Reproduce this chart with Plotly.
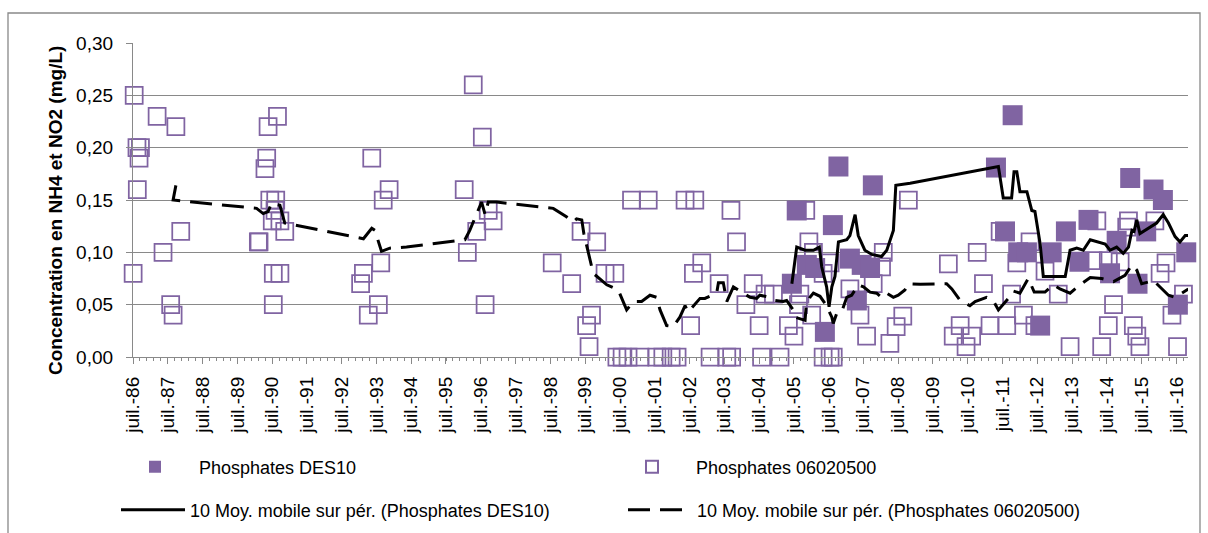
import datetime as dt
import plotly.graph_objects as go

# Phosphates 06020500 (open squares): decimal year, mg/L
p06_years = [
    1986.50, 1986.53, 1986.61, 1986.62, 1986.67, 1986.71,
    1987.19, 1987.36, 1987.58, 1987.65, 1987.73, 1987.87,
    1990.10, 1990.12, 1990.29, 1990.34, 1990.38, 1990.43, 1990.50, 1990.53, 1990.53,
    1990.58, 1990.60, 1990.65, 1990.72, 1990.72, 1990.86,
    1993.04, 1993.12, 1993.26, 1993.36, 1993.55, 1993.62, 1993.69, 1993.86,
    1996.02, 1996.11, 1996.28, 1996.38, 1996.54, 1996.62, 1996.71, 1996.85,
    1998.55, 1999.11, 1999.38, 1999.54, 1999.61, 1999.68, 1999.83,
    2000.07, 2000.35, 2000.41, 2000.56, 2000.73, 2000.83, 2001.07, 2001.31, 2001.56,
    2001.73, 2001.97, 2002.14, 2002.37, 2002.53, 2002.61, 2002.65, 2002.85,
    2003.09, 2003.35, 2003.57, 2003.69, 2003.71, 2003.85,
    2004.12, 2004.33, 2004.50, 2004.57, 2004.67, 2004.91,
    2005.10, 2005.34, 2005.50, 2005.63, 2005.67, 2005.84, 2005.93,
    2006.01, 2006.06, 2006.34, 2006.34, 2006.54, 2006.54, 2006.63,
    2007.11, 2007.40, 2007.59, 2007.78,
    2008.02, 2008.07, 2008.26, 2008.44, 2008.63, 2008.79,
    2009.94, 2010.08, 2010.28, 2010.45, 2010.61, 2010.77, 2010.95,
    2011.14, 2011.43, 2011.62, 2011.76, 2011.91,
    2012.10, 2012.29, 2012.43, 2012.72,
    2013.10, 2013.44,
    2014.10, 2014.21, 2014.35, 2014.54, 2014.54, 2014.69, 2014.88,
    2015.07, 2015.12, 2015.26, 2015.36, 2015.45, 2015.88,
    2016.03, 2016.20, 2016.37, 2016.53, 2016.70, 2016.87,
]
p06_values = [
    0.08, 0.25, 0.20, 0.16, 0.19, 0.20,
    0.23, 0.10, 0.05, 0.04, 0.22, 0.12,
    0.11, 0.11, 0.18, 0.19, 0.22, 0.15, 0.13, 0.08, 0.05,
    0.14, 0.15, 0.23, 0.13, 0.08, 0.12,
    0.07, 0.08, 0.04, 0.19, 0.05, 0.09, 0.15, 0.16,
    0.16, 0.10, 0.26, 0.12, 0.21, 0.05, 0.14, 0.13,
    0.09, 0.07, 0.12, 0.03, 0.01, 0.04, 0.11,
    0.08, 0.08, 0.00, 0.00, 0.00, 0.15, 0.00, 0.15, 0.00,
    0.00, 0.00, 0.00, 0.15, 0.03, 0.08, 0.15, 0.09,
    0.00, 0.07, 0.00, 0.14, 0.00, 0.11,
    0.05, 0.07, 0.03, 0.00, 0.06, 0.06,
    0.00, 0.03, 0.02, 0.05, 0.06, 0.14, 0.11,
    0.04, 0.10, 0.00, 0.08, 0.00, 0.09, 0.00,
    0.065, 0.04, 0.02, 0.07,
    0.086, 0.10, 0.013, 0.029, 0.039, 0.15,
    0.089, 0.02, 0.03, 0.01, 0.02, 0.10, 0.07,
    0.03, 0.12, 0.03, 0.06, 0.09,
    0.04, 0.11, 0.03, 0.082,
    0.06, 0.01,
    0.092, 0.13, 0.01, 0.03, 0.092, 0.05, 0.091,
    0.124, 0.13, 0.03, 0.02, 0.01, 0.13,
    0.08, 0.09, 0.04, 0.01, 0.06, 0.04,
]

# Phosphates DES10 (filled squares): decimal year, mg/L
des10_years = [
    2005.44, 2005.58, 2005.87, 2006.11, 2006.39, 2006.62, 2006.78,
    2007.11, 2007.31, 2007.45, 2007.69, 2007.77,
    2011.31, 2011.57, 2011.79, 2011.95, 2012.20, 2012.58, 2012.91,
    2013.32, 2013.71, 2013.97, 2014.59, 2014.78, 2015.17, 2015.38,
    2015.63, 2015.84, 2016.11, 2016.54, 2016.78,
]
des10_values = [
    0.070, 0.140, 0.088, 0.085, 0.024, 0.126, 0.182,
    0.094, 0.054, 0.088, 0.085, 0.164,
    0.181, 0.120, 0.231, 0.100, 0.100, 0.030, 0.100,
    0.120, 0.091, 0.131, 0.080, 0.111, 0.171, 0.070,
    0.120, 0.160, 0.150, 0.050, 0.100,
]

# 10-period moving average, DES10 (solid line)
ma_des10_years = [
    2005.44, 2005.58, 2005.82, 2006.06, 2006.23, 2006.30, 2006.44, 2006.51,
    2006.59, 2006.68, 2006.78, 2007.02, 2007.11, 2007.26, 2007.35, 2007.54,
    2007.74, 2008.02, 2008.17, 2008.36, 2008.43, 2008.84, 2011.38, 2011.52,
    2011.76, 2011.83, 2011.91, 2012.00, 2012.20, 2012.34, 2012.43, 2012.58,
    2012.67, 2013.30, 2013.44, 2013.63, 2013.82, 2014.02, 2014.45, 2014.59,
    2014.78, 2014.97, 2015.12, 2015.22, 2015.28, 2015.36, 2015.45, 2015.74,
    2015.93, 2016.12, 2016.27, 2016.46, 2016.60, 2016.75, 2016.84,
]
ma_des10_values = [
    0.070, 0.105, 0.102, 0.102, 0.105, 0.086, 0.067, 0.048,
    0.067, 0.077, 0.110, 0.112, 0.116, 0.136, 0.116, 0.102,
    0.098, 0.096, 0.102, 0.121, 0.164, 0.166, 0.182, 0.152,
    0.152, 0.177, 0.177, 0.158, 0.158, 0.140, 0.139, 0.108,
    0.077, 0.077, 0.102, 0.104, 0.102, 0.112, 0.108, 0.102,
    0.105, 0.099, 0.105, 0.121, 0.120, 0.131, 0.118, 0.124,
    0.128, 0.136, 0.128, 0.115, 0.110, 0.116, 0.116,
]

# 10-period moving average, 06020500 (dashed line)
ma_p06_years = [
    1987.73, 1987.65, 1990.05, 1990.24, 1990.38, 1990.48, 1990.72, 1990.86,
    1993.12, 1993.36, 1993.45, 1993.64, 1993.88, 1994.36, 1996.04, 1996.18,
    1996.38, 1996.52, 1996.62, 1996.71, 1996.95, 1998.58, 1998.96, 1999.15,
    1999.25, 1999.40, 1999.46, 1999.63, 1999.73, 2000.12, 2000.45, 2000.69,
    2000.88, 2001.12, 2001.36, 2001.55, 2001.65, 2001.84, 2002.03, 2002.22,
    2002.37, 2002.46, 2002.61, 2002.80, 2002.94, 2003.28, 2003.33, 2003.47,
    2003.57, 2003.76, 2004.04, 2004.24, 2004.43, 2004.52, 2004.81, 2004.96,
    2005.19, 2005.29, 2005.48, 2005.53, 2005.82, 2005.85, 2005.96, 2006.06,
    2006.25, 2006.42, 2006.59, 2006.63, 2006.73, 2006.87, 2007.02, 2007.16,
    2007.35, 2007.50, 2007.69, 2007.88, 2008.02, 2008.17, 2008.36, 2008.50,
    2008.69, 2008.79, 2009.13, 2009.89, 2010.04, 2010.28, 2010.56, 2010.71,
    2011.04, 2011.23, 2011.38, 2011.67, 2011.81, 2012.00, 2012.24, 2012.41,
    2012.72, 2012.96, 2013.15, 2013.44, 2013.73, 2014.02, 2014.35, 2014.69,
    2015.02, 2015.22, 2015.36, 2015.50, 2015.84, 2016.03, 2016.27, 2016.46,
    2016.70, 2016.84,
]
ma_p06_values = [
    0.164, 0.150, 0.142, 0.137, 0.139, 0.147, 0.145, 0.128,
    0.113, 0.123, 0.121, 0.101, 0.104, 0.105, 0.112, 0.121,
    0.137, 0.148, 0.136, 0.148, 0.148, 0.142, 0.134, 0.129,
    0.132, 0.131, 0.118, 0.0925, 0.080, 0.069, 0.064, 0.045,
    0.053, 0.053, 0.059, 0.057, 0.045, 0.030, 0.029, 0.038,
    0.049, 0.043, 0.049, 0.056, 0.056, 0.061, 0.071, 0.071,
    0.053, 0.067, 0.061, 0.057, 0.056, 0.059, 0.057, 0.054,
    0.053, 0.054, 0.045, 0.038, 0.035, 0.048, 0.057, 0.061,
    0.058, 0.050, 0.038, 0.032, 0.0415, 0.043, 0.057, 0.059,
    0.069, 0.067, 0.062, 0.061, 0.057, 0.061, 0.057, 0.059,
    0.064, 0.070, 0.0695, 0.070, 0.065, 0.054, 0.049, 0.053,
    0.057, 0.054, 0.045, 0.056, 0.063, 0.061, 0.075, 0.062,
    0.062, 0.069, 0.065, 0.061, 0.069, 0.076, 0.075, 0.072,
    0.078, 0.088, 0.083, 0.070, 0.073, 0.067, 0.059, 0.057,
    0.062, 0.065,
]

tick_years = list(range(1986, 2017))
tick_labels = [f"juil.-{y % 100:02d}" for y in tick_years]

PURPLE = "#8064A2"
GREY = "#898989"
FONT = "Liberation Sans, Arial, sans-serif"


def to_date(y):
    """Decimal year -> datetime."""
    year = int(y)
    start = dt.datetime(year, 1, 1)
    end = dt.datetime(year + 1, 1, 1)
    return start + (end - start) * (y - year)


def dates(years):
    return [to_date(y) for y in years]


fig = go.Figure()

fig.add_trace(go.Scatter(
    x=dates(p06_years), y=p06_values, mode="markers", name="Phosphates 06020500",
    marker=dict(symbol="square-open", size=17, color=PURPLE, line=dict(width=1.75, color=PURPLE)),
    cliponaxis=False, legend="legend", legendrank=2,
))
fig.add_trace(go.Scatter(
    x=dates(des10_years), y=des10_values, mode="markers", name="Phosphates DES10",
    marker=dict(symbol="square", size=20, color=PURPLE, line=dict(width=0)),
    cliponaxis=False, legend="legend", legendrank=1,
))
fig.add_trace(go.Scatter(
    x=dates(ma_des10_years), y=ma_des10_values, mode="lines",
    name="10 Moy. mobile sur pér. (Phosphates DES10)",
    line=dict(color="black", width=3), legend="legend2", legendrank=1,
))
fig.add_trace(go.Scatter(
    x=dates(ma_p06_years), y=ma_p06_values, mode="lines",
    name="10 Moy. mobile sur pér. (Phosphates 06020500)",
    line=dict(color="black", width=3, dash="22px,10px"), legend="legend2", legendrank=2,
))

W, H = 1208, 533
L, R, T, B = 133, 20, 43, 176
pw, ph = W - L - R, H - T - B


def px_x(x):
    return (x - L) / pw


def px_y(y):
    return (H - B - y) / ph


fig.update_layout(
    width=W, height=H,
    margin=dict(l=L, r=R, t=T, b=B),
    paper_bgcolor="white", plot_bgcolor="white",
    separators=", ",
    font=dict(family=FONT, size=18, color="black"),
    showlegend=True,
    xaxis=dict(
        type="date",
        range=[dt.datetime(1986, 7, 1), dt.datetime(2016, 10, 31)],
        tickmode="array",
        tickvals=[dt.datetime(y, 7, 1) for y in tick_years],
        ticktext=tick_labels,
        tickangle=-90,
        tickfont=dict(size=19),
        ticks="outside", ticklen=6, tickcolor=GREY, tickwidth=1.3,
        ticklabelstandoff=5,
        showline=True, linecolor=GREY, linewidth=1.3,
        showgrid=False, zeroline=False,
        minor=dict(ticks="outside", ticklen=3, tickcolor=GREY, tickwidth=1.3,
                   tick0=dt.datetime(1986, 7, 1), dtick=73.05 * 86400000, showgrid=False),
    ),
    yaxis=dict(
        range=[0, 0.30], dtick=0.05, tickformat=".2f",
        tickfont=dict(size=19),
        ticks="outside", ticklen=6, tickcolor=GREY, tickwidth=1.3,
        ticklabelstandoff=9,
        showline=True, linecolor=GREY, linewidth=1.3,
        showgrid=True, gridcolor=GREY, gridwidth=1.3, zeroline=False,
    ),
    legend=dict(
        orientation="h", xref="container", yref="container",
        x=111 / W, y=1 - 467 / H, xanchor="left", yanchor="middle",
        itemwidth=78, entrywidth=404, entrywidthmode="pixels",
        itemsizing="constant", font=dict(size=18), bgcolor="rgba(0,0,0,0)",
        traceorder="normal",
    ),
    legend2=dict(
        orientation="h", xref="container", yref="container",
        x=116 / W, y=1 - 510 / H, xanchor="left", yanchor="middle",
        itemwidth=64, entrywidth=428, entrywidthmode="pixels",
        font=dict(size=18), bgcolor="rgba(0,0,0,0)",
        traceorder="normal",
    ),
    annotations=[dict(
        text="<b>Concentration en NH4 et NO2 (mg/L)</b>",
        xref="paper", yref="paper", x=px_x(55), y=px_y(211),
        textangle=-90, showarrow=False, font=dict(size=19),
        xanchor="center", yanchor="middle",
    )],
    shapes=[dict(
        type="rect", xref="paper", yref="paper",
        x0=px_x(8), x1=px_x(1200), y0=px_y(545), y1=px_y(13),
        line=dict(color=GREY, width=1.3), layer="below",
    )],
)

fig.write_html("out.html")
